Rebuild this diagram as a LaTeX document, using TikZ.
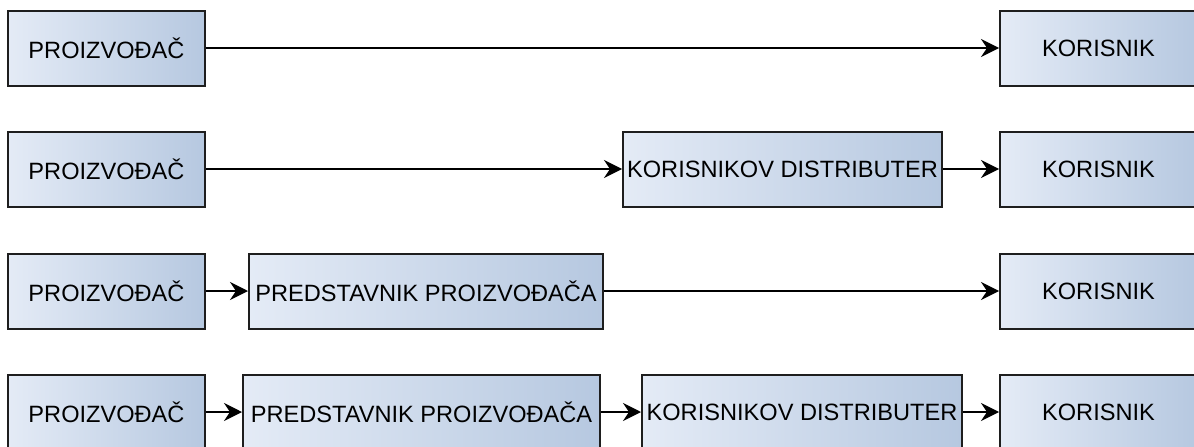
\documentclass[tikz,border=0pt]{standalone}
\usepackage{fontspec}
\setmainfont{Liberation Sans}
\usepackage{tikz}
\usetikzlibrary{arrows.meta, positioning}
\definecolor{boxleft}{HTML}{E4EBF6}
\definecolor{boxright}{HTML}{B6C8E0}
\definecolor{boxline}{HTML}{1E1E1E}
\tikzstyle{block} = [rectangle, minimum height=75pt, inner sep=2pt, text centered, draw=boxline, line width=2pt, left color=boxleft, right color=boxright, anchor=west, font=\fontsize{23.6}{28}\selectfont]
\tikzstyle{arrow} = [line width=1.5pt, -{Stealth[length=18pt, width=18pt, inset=6pt]}]

\begin{document}
\begin{tikzpicture}[x=1pt, y=-1pt]
  \useasboundingbox (0,0) rectangle (1194,447);
  \clip (0,0) rectangle (1194,447);

  % direct
  \node (proiz1) [block, minimum width=197pt] at (7,48) {PROIZVOĐAČ};
  \node (kor1) [block, minimum width=197pt] at (999,48) {KORISNIK};

  % over distributer
  \node (proiz2) [block, minimum width=197pt] at (7,169) {PROIZVOĐAČ};
  \node (dist2) [block, minimum width=319pt] at (622,169) {KORISNIKOV DISTRIBUTER};
  \node (kor2) [block, minimum width=197pt] at (999,169) {KORISNIK};

  % over predstavnik
  \node (proiz3) [block, minimum width=197pt] at (7,291) {PROIZVOĐAČ};
  \node (pred3) [block, minimum width=354pt] at (248,291) {PREDSTAVNIK PROIZVOĐAČA};
  \node (kor3) [block, minimum width=197pt] at (999,291) {KORISNIK};

  % both
  \node (proiz4) [block, minimum width=197pt] at (7,412) {PROIZVOĐAČ};
  \node (pred4) [block, minimum width=357pt] at (242,412) {PREDSTAVNIK PROIZVOĐAČA};
  \node (dist4) [block, minimum width=320pt] at (641,412) {KORISNIKOV DISTRIBUTER};
  \node (kor4) [block, minimum width=197pt] at (999,412) {KORISNIK};

  \draw[arrow] (proiz1) -- (kor1);
  \draw[arrow] (proiz2) -- (dist2);
  \draw[arrow] (dist2) -- (kor2);
  \draw[arrow] (proiz3) -- (pred3);
  \draw[arrow] (pred3) -- (kor3);
  \draw[arrow] (proiz4) -- (pred4);
  \draw[arrow] (pred4) -- (dist4);
  \draw[arrow] (dist4) -- (kor4);
\end{tikzpicture}
\end{document}
